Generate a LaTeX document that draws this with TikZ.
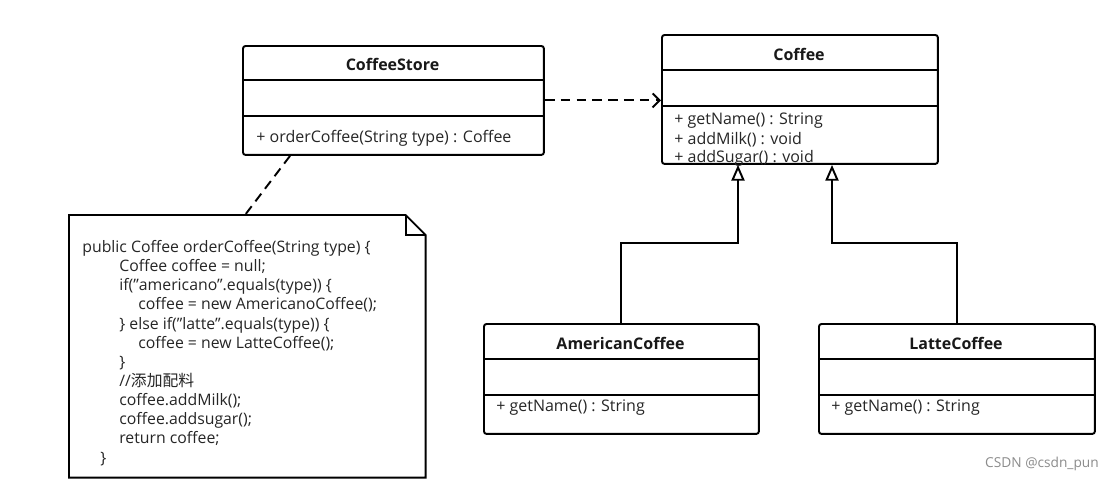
\documentclass[tikz,border=0pt]{standalone}
\usepackage{fontspec}
\setmainfont{Open Sans}
\newfontfamily\cjk{Noto Sans CJK SC}
\usetikzlibrary{arrows.meta,calc,positioning}

\tikzset{
  umlbox/.style={draw, line width=1.1pt, rounded corners=1.5pt, anchor=north west, inner sep=0pt},
  umlline/.style={line width=1.1pt},
  classname/.style={font=\fontsize{9.1}{11}\selectfont\bfseries, text=black!90},
  member/.style={font=\fontsize{9.1}{11}\selectfont, text=black!85, anchor=west, inner sep=0pt},
  codetext/.style={font=\fontsize{9}{10.9}\selectfont, text=black!85, align=left, inner sep=0pt, anchor=north west},
  depends/.style={line width=1.1pt, dash pattern=on 5.5pt off 3.5pt, -{Straight Barb[length=4pt,width=8pt]}},
  inherits/.style={line width=1.1pt, -{Triangle[open,length=9pt,width=7.5pt]}},
  notelink/.style={line width=1.1pt, dash pattern=on 5.5pt off 3.5pt},
}

\begin{document}
\begin{tikzpicture}[x=0.02cm,y=-0.02cm]

    % Fix the canvas
    \fill[white] (0,0) rectangle (1109,481);
    \useasboundingbox (0,0) rectangle (1109,481);

    % Class CoffeeStore
    \node[umlbox, minimum width=6.02cm, minimum height=2.18cm] (store) at (242,45) {};
    \draw[umlline] (242,80) -- (543,80);
    \draw[umlline] (242,116) -- (543,116);
    \node[classname] (storename) at (392.5,64) {CoffeeStore};
    \node[member] (storeop) at (256,138) {+ orderCoffee(String type) : Coffee};

    % Class Coffee
    \node[umlbox, minimum width=5.52cm, minimum height=2.58cm] (coffee) at (661,34) {};
    \draw[umlline] (661,70) -- (937,70);
    \draw[umlline] (661,106) -- (937,106);
    \node[classname] (coffeename) at (799,54) {Coffee};
    \node[member] (getname) at (674,121) {+ getName() : String};
    \node[member] (addmilk) at (674,140) {+ addMilk() : void};
    \node[member] (addsugar) at (674,158.5) {+ addSugar() : void};

    % Class AmericanCoffee
    \node[umlbox, minimum width=5.5cm, minimum height=2.2cm] (american) at (483,323) {};
    \draw[umlline] (483,359) -- (758,359);
    \draw[umlline] (483,395) -- (758,395);
    \node[classname] (americanname) at (620.5,343) {AmericanCoffee};
    \node[member] (americanop) at (496,408) {+ getName() : String};

    % Class LatteCoffee
    \node[umlbox, minimum width=5.52cm, minimum height=2.2cm] (latte) at (818,323) {};
    \draw[umlline] (818,359) -- (1094,359);
    \draw[umlline] (818,395) -- (1094,395);
    \node[classname] (lattename) at (956,343) {LatteCoffee};
    \node[member] (latteop) at (831,408) {+ getName() : String};

    % Note with folded corner
    \node[minimum width=7.12cm, minimum height=5.24cm, anchor=north west, inner sep=0pt] (note) at (69,215) {};
    \draw[umlline] (note.north west) -- ($(note.north east)+(-20,0)$) -- ($(note.north east)+(0,20)$)
        -- (note.south east) -- (note.south west) -- cycle;
    \draw[umlline] ($(note.north east)+(-20,0)$) |- ($(note.north east)+(0,20)$);
    \node[codetext] (code) at (82,240) {public Coffee orderCoffee(String type) \{\\
        \hspace*{0.74cm}Coffee coffee = null;\\
        \hspace*{0.74cm}if("americano".equals(type)) \{\\
        \hspace*{1.12cm}coffee = new AmericanoCoffee();\\
        \hspace*{0.74cm}\} else if("latte".equals(type)) \{\\
        \hspace*{1.12cm}coffee = new LatteCoffee();\\
        \hspace*{0.74cm}\}\\
        \hspace*{0.74cm}//{\cjk 添加配料}\\
        \hspace*{0.74cm}coffee.addMilk();\\
        \hspace*{0.74cm}coffee.addsugar();\\
        \hspace*{0.74cm}return coffee;\\
        \hspace*{0.36cm}\}};

    % Connectors
    \draw[depends] (store.east) -- (store.east -| coffee.west);
    \draw[notelink] ($(store.south west)+(48,0)$) -- ($(note.north west)+(176,0)$);
    \draw[inherits] (american.north) |- (738,243) -- ($(coffee.south west)+(77,0)$);
    \draw[inherits] (latte.north) |- (832,243) -- ($(coffee.south west)+(171,0)$);

    % Watermark
    \node[text=black!45, font=\fontsize{7.8}{9}\selectfont, anchor=west] (mark) at (979,464) {CSDN @csdn\_pun};

\end{tikzpicture}
\end{document}
